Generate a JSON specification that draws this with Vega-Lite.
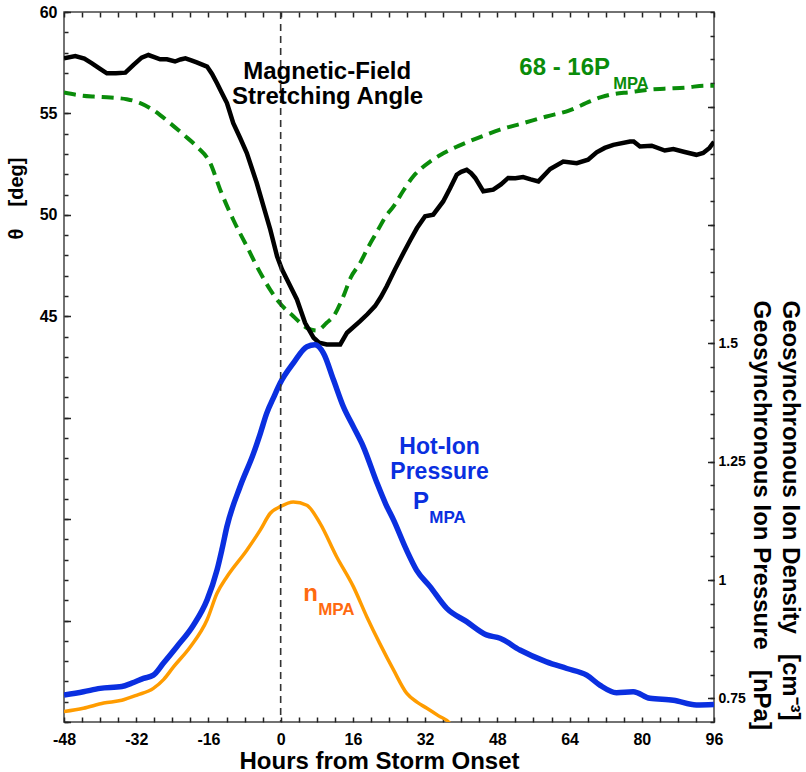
{
  "$schema": "https://vega.github.io/schema/vega-lite/v6.json",
  "width": 650,
  "height": 710,
  "autosize": {"type": "none"},
  "padding": {"left": 64, "top": 12, "right": 92, "bottom": 50},
  "background": "white",
  "config": {
    "view": {"stroke": "#444", "strokeWidth": 1.5},
    "font": "Liberation Sans",
    "axis": {
      "domain": false,
      "grid": false,
      "tickColor": "#222",
      "tickWidth": 1.5,
      "labelFont": "Liberation Sans",
      "labelFontWeight": "bold",
      "labelColor": "#000",
      "titleFont": "Liberation Sans",
      "titleFontWeight": "bold",
      "titleColor": "#000",
      "labelOverlap": false,
      "labelFlush": false
    }
  },
  "datasets": {
    "angle": [
      {"hr": -48, "v": 57.72}, {"hr": -45.5, "v": 57.83}, {"hr": -43.5, "v": 57.7}, {"hr": -41.8, "v": 57.47},
      {"hr": -40, "v": 57.2}, {"hr": -38.5, "v": 56.98}, {"hr": -36.5, "v": 56.98}, {"hr": -34.4, "v": 57.01},
      {"hr": -32.6, "v": 57.39}, {"hr": -30.8, "v": 57.75}, {"hr": -29.3, "v": 57.88}, {"hr": -28, "v": 57.78},
      {"hr": -26.7, "v": 57.67}, {"hr": -25.2, "v": 57.67}, {"hr": -23.4, "v": 57.56}, {"hr": -22.2, "v": 57.66},
      {"hr": -21.1, "v": 57.72}, {"hr": -19.8, "v": 57.62}, {"hr": -18.6, "v": 57.52}, {"hr": -16.3, "v": 57.31},
      {"hr": -15.2, "v": 56.95}, {"hr": -14.1, "v": 56.49}, {"hr": -13, "v": 56.0}, {"hr": -11.9, "v": 55.51},
      {"hr": -10.5, "v": 54.52}, {"hr": -9, "v": 53.8}, {"hr": -7.5, "v": 53.05}, {"hr": -5.3, "v": 51.57},
      {"hr": -3.8, "v": 50.42}, {"hr": -2.3, "v": 49.27}, {"hr": -0.8, "v": 47.96}, {"hr": 0.3, "v": 47.3},
      {"hr": 1.4, "v": 46.81}, {"hr": 3.6, "v": 45.83}, {"hr": 5.4, "v": 44.68}, {"hr": 7.3, "v": 43.94},
      {"hr": 8.5, "v": 43.7}, {"hr": 10.2, "v": 43.61}, {"hr": 13.2, "v": 43.61}, {"hr": 14.7, "v": 44.19},
      {"hr": 17.6, "v": 44.76}, {"hr": 19.2, "v": 45.1}, {"hr": 20.9, "v": 45.5}, {"hr": 22.2, "v": 45.95},
      {"hr": 23.5, "v": 46.48}, {"hr": 25.3, "v": 47.3}, {"hr": 27.2, "v": 48.12}, {"hr": 28.7, "v": 48.75},
      {"hr": 30.2, "v": 49.35}, {"hr": 32.0, "v": 49.93}, {"hr": 33.8, "v": 50.01}, {"hr": 36.0, "v": 50.66},
      {"hr": 37.5, "v": 51.3}, {"hr": 39.0, "v": 51.98}, {"hr": 40.0, "v": 52.12}, {"hr": 41.2, "v": 52.22},
      {"hr": 42.2, "v": 52.05}, {"hr": 43.1, "v": 51.82}, {"hr": 44.9, "v": 51.16}, {"hr": 47.1, "v": 51.24},
      {"hr": 48.8, "v": 51.5}, {"hr": 50.4, "v": 51.82}, {"hr": 52, "v": 51.8}, {"hr": 53.7, "v": 51.86},
      {"hr": 55.4, "v": 51.75}, {"hr": 57.1, "v": 51.65}, {"hr": 59.7, "v": 52.26}, {"hr": 62.6, "v": 52.63},
      {"hr": 65.6, "v": 52.55}, {"hr": 68.1, "v": 52.72}, {"hr": 70.0, "v": 53.08}, {"hr": 71.8, "v": 53.3},
      {"hr": 73.7, "v": 53.45}, {"hr": 77.4, "v": 53.62}, {"hr": 78.2, "v": 53.62}, {"hr": 79.6, "v": 53.37},
      {"hr": 82.2, "v": 53.41}, {"hr": 85.1, "v": 53.17}, {"hr": 87.0, "v": 53.24}, {"hr": 89.5, "v": 53.1},
      {"hr": 92.1, "v": 52.96}, {"hr": 93.6, "v": 53.05}, {"hr": 95, "v": 53.3}, {"hr": 96, "v": 53.6}
    ],
    "model": [
      {"hr": -48, "v": 56.03}, {"hr": -44.7, "v": 55.9}, {"hr": -41.4, "v": 55.83}, {"hr": -37.7, "v": 55.78},
      {"hr": -34.1, "v": 55.7}, {"hr": -31.5, "v": 55.55}, {"hr": -28.9, "v": 55.26}, {"hr": -26.7, "v": 54.92},
      {"hr": -24.5, "v": 54.52}, {"hr": -21.5, "v": 53.95}, {"hr": -18.6, "v": 53.37}, {"hr": -15.6, "v": 52.55},
      {"hr": -13.4, "v": 51.24}, {"hr": -10.5, "v": 49.76}, {"hr": -7.5, "v": 48.45}, {"hr": -4.5, "v": 47.14},
      {"hr": -2.3, "v": 46.3}, {"hr": -0.4, "v": 45.7}, {"hr": 2.8, "v": 45.0}, {"hr": 5.8, "v": 44.43},
      {"hr": 8.0, "v": 44.3}, {"hr": 10.2, "v": 44.68}, {"hr": 11.7, "v": 45.0}, {"hr": 13.9, "v": 45.99},
      {"hr": 15.5, "v": 46.9}, {"hr": 17.6, "v": 47.63}, {"hr": 19.5, "v": 48.45}, {"hr": 21.3, "v": 49.15},
      {"hr": 23.2, "v": 49.9}, {"hr": 25.0, "v": 50.42}, {"hr": 27.2, "v": 51.2}, {"hr": 29.4, "v": 51.9},
      {"hr": 31.2, "v": 52.3}, {"hr": 33.1, "v": 52.63}, {"hr": 36.8, "v": 53.12}, {"hr": 41.2, "v": 53.57},
      {"hr": 44.9, "v": 53.9}, {"hr": 48.6, "v": 54.2}, {"hr": 53.7, "v": 54.52}, {"hr": 58.9, "v": 54.85},
      {"hr": 64, "v": 55.15}, {"hr": 68.5, "v": 55.59}, {"hr": 71, "v": 55.8}, {"hr": 73.6, "v": 55.95},
      {"hr": 77.4, "v": 56.05}, {"hr": 81.1, "v": 56.16}, {"hr": 85, "v": 56.22}, {"hr": 90, "v": 56.28},
      {"hr": 94, "v": 56.37}, {"hr": 96, "v": 56.37}
    ],
    "pressure": [
      {"hr": -48, "v": 0.757}, {"hr": -43.7, "v": 0.764}, {"hr": -40, "v": 0.771}, {"hr": -35.2, "v": 0.775},
      {"hr": -33, "v": 0.782}, {"hr": -30.4, "v": 0.792}, {"hr": -28.2, "v": 0.799}, {"hr": -26, "v": 0.824},
      {"hr": -23, "v": 0.859}, {"hr": -19.3, "v": 0.905}, {"hr": -16.3, "v": 0.958}, {"hr": -14.1, "v": 1.021},
      {"hr": -13, "v": 1.065}, {"hr": -11.9, "v": 1.113}, {"hr": -9, "v": 1.197}, {"hr": -6, "v": 1.268},
      {"hr": -4.5, "v": 1.31}, {"hr": -3.1, "v": 1.352}, {"hr": -1.5, "v": 1.387}, {"hr": -0.1, "v": 1.416},
      {"hr": 2.8, "v": 1.458}, {"hr": 5.8, "v": 1.493}, {"hr": 7.6, "v": 1.497}, {"hr": 9.5, "v": 1.479},
      {"hr": 11.7, "v": 1.423}, {"hr": 13.9, "v": 1.366}, {"hr": 16.1, "v": 1.324}, {"hr": 18.3, "v": 1.282},
      {"hr": 21.3, "v": 1.206}, {"hr": 23.3, "v": 1.16}, {"hr": 25.0, "v": 1.127}, {"hr": 27.9, "v": 1.063},
      {"hr": 30.1, "v": 1.021}, {"hr": 33.1, "v": 0.986}, {"hr": 36.8, "v": 0.94}, {"hr": 41.2, "v": 0.912},
      {"hr": 45.6, "v": 0.884}, {"hr": 48.6, "v": 0.877}, {"hr": 53, "v": 0.852}, {"hr": 58.9, "v": 0.827},
      {"hr": 63.4, "v": 0.813}, {"hr": 67.8, "v": 0.799}, {"hr": 70.7, "v": 0.778}, {"hr": 74.4, "v": 0.762},
      {"hr": 78.1, "v": 0.764}, {"hr": 81.8, "v": 0.75}, {"hr": 87, "v": 0.746}, {"hr": 92.1, "v": 0.736},
      {"hr": 96, "v": 0.737}
    ],
    "density": [
      {"hr": -48, "v": 0.722}, {"hr": -43.7, "v": 0.729}, {"hr": -39.2, "v": 0.74}, {"hr": -35.2, "v": 0.746},
      {"hr": -31.8, "v": 0.757}, {"hr": -28.2, "v": 0.771}, {"hr": -25.9, "v": 0.79}, {"hr": -23.7, "v": 0.817},
      {"hr": -20, "v": 0.859}, {"hr": -16.3, "v": 0.916}, {"hr": -14.1, "v": 0.972}, {"hr": -11.9, "v": 1.007},
      {"hr": -7.5, "v": 1.063}, {"hr": -4.5, "v": 1.106}, {"hr": -2.3, "v": 1.141}, {"hr": -0.1, "v": 1.155},
      {"hr": 2.8, "v": 1.165}, {"hr": 5.8, "v": 1.158}, {"hr": 8.7, "v": 1.12}, {"hr": 12.4, "v": 1.049},
      {"hr": 16.1, "v": 0.986}, {"hr": 19.1, "v": 0.922}, {"hr": 22, "v": 0.865}, {"hr": 25, "v": 0.81},
      {"hr": 27.9, "v": 0.761}, {"hr": 30.2, "v": 0.742}, {"hr": 32.4, "v": 0.729}, {"hr": 35, "v": 0.713},
      {"hr": 37.5, "v": 0.697}, {"hr": 38, "v": 0.69}
    ]
  },
  "layer": [
    {
      "data": {"name": "model"},
      "mark": {"type": "line", "color": "#0a8c0a", "strokeWidth": 4, "strokeDash": [12, 7], "interpolate": "monotone", "clip": true},
      "encoding": {
        "x": {
          "field": "hr", "type": "quantitative",
          "scale": {"domain": [-48, 96], "nice": false, "zero": false},
          "axis": {
            "orient": "top", "title": null, "labels": false, "tickSize": -5,
            "values": [-48, -44, -40, -36, -32, -28, -24, -20, -16, -12, -8, -4, 0, 4, 8, 12, 16, 20, 24, 28, 32, 36, 40, 44, 48, 52, 56, 60, 64, 68, 72, 76, 80, 84, 88, 92, 96]
          }
        },
        "y": {
          "field": "v", "type": "quantitative",
          "scale": {"domain": [25, 60], "nice": false, "zero": false},
          "axis": {
            "orient": "left", "title": null, "labels": false, "tickSize": -4,
            "values": [25, 26, 27, 28, 29, 30, 31, 32, 33, 34, 35, 36, 37, 38, 39, 40, 41, 42, 43, 44, 45, 46, 47, 48, 49, 50, 51, 52, 53, 54, 55, 56, 57, 58, 59, 60]
          }
        }
      }
    },
    {
      "data": {"name": "angle"},
      "mark": {"type": "line", "color": "#000000", "strokeWidth": 4.5, "clip": true},
      "encoding": {
        "x": {
          "field": "hr", "type": "quantitative",
          "scale": {"domain": [-48, 96], "nice": false, "zero": false},
          "axis": {
            "orient": "bottom", "tickSize": -5, "labelPadding": 14, "labelFontSize": 16,
            "values": [-48, -44, -40, -36, -32, -28, -24, -20, -16, -12, -8, -4, 0, 4, 8, 12, 16, 20, 24, 28, 32, 36, 40, 44, 48, 52, 56, 60, 64, 68, 72, 76, 80, 84, 88, 92, 96],
            "labelExpr": "datum.value % 16 === 0 ? datum.value + '' : ''",
            "title": "Hours from Storm Onset", "titleFontSize": 24,
            "titleX": 315, "titleY": 46, "titleAlign": "center", "titleBaseline": "alphabetic"
          }
        },
        "y": {
          "field": "v", "type": "quantitative",
          "scale": {"domain": [25, 60], "nice": false, "zero": false},
          "axis": {
            "orient": "left", "tickSize": -6.5, "labelPadding": 13.5, "labelFontSize": 16,
            "values": [25, 30, 35, 40, 45, 50, 55, 60],
            "labelExpr": "datum.value >= 45 ? datum.value + '' : ''",
            "title": "θ\u00a0\u00a0\u00a0\u00a0[deg]", "titleFontSize": 20, "titleAngle": -90,
            "titleX": -42, "titleY": 186, "titleAlign": "center", "titleBaseline": "alphabetic"
          }
        }
      }
    },
    {
      "data": {"name": "density"},
      "mark": {"type": "line", "color": "#ff9c00", "strokeWidth": 3.5, "interpolate": "monotone", "clip": true},
      "encoding": {
        "x": {"field": "hr", "type": "quantitative", "scale": {"domain": [-48, 96], "nice": false, "zero": false}, "axis": null},
        "y": {
          "field": "v", "type": "quantitative",
          "scale": {"domain": [0.7, 2.2], "nice": false, "zero": false},
          "axis": {
            "orient": "right", "title": null, "labels": false, "tickSize": -4,
            "values": [0.7, 0.75, 0.8, 0.85, 0.9, 0.95, 1, 1.05, 1.1, 1.15, 1.2, 1.25, 1.3, 1.35, 1.4, 1.45, 1.5, 1.55, 1.6, 1.65, 1.7, 1.75, 1.8, 1.85, 1.9, 1.95, 2, 2.05, 2.1, 2.15, 2.2]
          }
        }
      }
    },
    {
      "data": {"name": "pressure"},
      "mark": {"type": "line", "color": "#0a2fe0", "strokeWidth": 5.5, "interpolate": "monotone", "clip": true},
      "encoding": {
        "x": {"field": "hr", "type": "quantitative", "scale": {"domain": [-48, 96], "nice": false, "zero": false}, "axis": null},
        "y": {
          "field": "v", "type": "quantitative",
          "scale": {"domain": [0.7, 2.2], "nice": false, "zero": false},
          "axis": {
            "orient": "right", "tickSize": -6.5, "labelPadding": 10.5, "labelFontSize": 14,
            "values": [0.75, 1, 1.25, 1.5, 1.75, 2],
            "labelExpr": "datum.value <= 1.5 ? datum.value + '' : ''",
            "title": ["Geosynchronous Ion Density\u00a0\u00a0\u00a0[cm⁻³]", "Geosynchronous Ion Pressure\u00a0\u00a0\u00a0[nPa]"],
            "titleFontSize": 24, "titleAngle": 90, "titleLineHeight": 29,
            "titleX": 68, "titleY": 288, "titleAlign": "left", "titleBaseline": "alphabetic"
          }
        }
      }
    },
    {
      "data": {"values": [{"hr": 0}]},
      "mark": {"type": "rule", "color": "#333333", "strokeWidth": 1.6, "strokeDash": [7, 5]},
      "encoding": {
        "x": {"field": "hr", "type": "quantitative", "scale": {"domain": [-48, 96], "nice": false, "zero": false}, "axis": null}
      }
    },
    {
      "data": {"values": [
        {"hr": 10.3, "v": 56.7, "txt": "Magnetic-Field"},
        {"hr": 10.4, "v": 55.47, "txt": "Stretching Angle"}
      ]},
      "mark": {"type": "text", "align": "center", "baseline": "alphabetic", "fontSize": 24, "fontWeight": "bold", "color": "#000000"},
      "encoding": {
        "x": {"field": "hr", "type": "quantitative", "scale": {"domain": [-48, 96], "nice": false, "zero": false}, "axis": null},
        "y": {"field": "v", "type": "quantitative", "scale": {"domain": [25, 60], "nice": false, "zero": false}, "axis": null},
        "text": {"field": "txt"}
      }
    },
    {
      "data": {"values": [{"hr": 52.87, "v": 56.9, "txt": "68 - 16P"}]},
      "mark": {"type": "text", "align": "left", "baseline": "alphabetic", "fontSize": 24, "fontWeight": "bold", "color": "#0a8c0a"},
      "encoding": {
        "x": {"field": "hr", "type": "quantitative", "scale": {"domain": [-48, 96], "nice": false, "zero": false}, "axis": null},
        "y": {"field": "v", "type": "quantitative", "scale": {"domain": [25, 60], "nice": false, "zero": false}, "axis": null},
        "text": {"field": "txt"}
      }
    },
    {
      "data": {"values": [{"hr": 73.67, "v": 56.2, "txt": "MPA"}]},
      "mark": {"type": "text", "align": "left", "baseline": "alphabetic", "fontSize": 16.5, "fontWeight": "bold", "color": "#0a8c0a"},
      "encoding": {
        "x": {"field": "hr", "type": "quantitative", "scale": {"domain": [-48, 96], "nice": false, "zero": false}, "axis": null},
        "y": {"field": "v", "type": "quantitative", "scale": {"domain": [25, 60], "nice": false, "zero": false}, "axis": null},
        "text": {"field": "txt"}
      }
    },
    {
      "data": {"values": [
        {"hr": 35.2, "v": 1.2662, "txt": "Hot-Ion"},
        {"hr": 35.2, "v": 1.2134, "txt": "Pressure"}
      ]},
      "mark": {"type": "text", "align": "center", "baseline": "alphabetic", "fontSize": 23, "fontWeight": "bold", "color": "#0a2fe0"},
      "encoding": {
        "x": {"field": "hr", "type": "quantitative", "scale": {"domain": [-48, 96], "nice": false, "zero": false}, "axis": null},
        "y": {"field": "v", "type": "quantitative", "scale": {"domain": [0.7, 2.2], "nice": false, "zero": false}, "axis": null},
        "text": {"field": "txt"}
      }
    },
    {
      "data": {"values": [{"hr": 29.33, "v": 1.149, "txt": "P"}]},
      "mark": {"type": "text", "align": "left", "baseline": "alphabetic", "fontSize": 24, "fontWeight": "bold", "color": "#0a2fe0"},
      "encoding": {
        "x": {"field": "hr", "type": "quantitative", "scale": {"domain": [-48, 96], "nice": false, "zero": false}, "axis": null},
        "y": {"field": "v", "type": "quantitative", "scale": {"domain": [0.7, 2.2], "nice": false, "zero": false}, "axis": null},
        "text": {"field": "txt"}
      }
    },
    {
      "data": {"values": [{"hr": 32.94, "v": 1.12, "txt": "MPA"}]},
      "mark": {"type": "text", "align": "left", "baseline": "alphabetic", "fontSize": 17, "fontWeight": "bold", "color": "#0a2fe0"},
      "encoding": {
        "x": {"field": "hr", "type": "quantitative", "scale": {"domain": [-48, 96], "nice": false, "zero": false}, "axis": null},
        "y": {"field": "v", "type": "quantitative", "scale": {"domain": [0.7, 2.2], "nice": false, "zero": false}, "axis": null},
        "text": {"field": "txt"}
      }
    },
    {
      "data": {"values": [{"hr": 4.98, "v": 0.9557, "txt": "n"}]},
      "mark": {"type": "text", "align": "left", "baseline": "alphabetic", "fontSize": 24, "fontWeight": "bold", "color": "#ff6a10"},
      "encoding": {
        "x": {"field": "hr", "type": "quantitative", "scale": {"domain": [-48, 96], "nice": false, "zero": false}, "axis": null},
        "y": {"field": "v", "type": "quantitative", "scale": {"domain": [0.7, 2.2], "nice": false, "zero": false}, "axis": null},
        "text": {"field": "txt"}
      }
    },
    {
      "data": {"values": [{"hr": 8.3, "v": 0.926, "txt": "MPA"}]},
      "mark": {"type": "text", "align": "left", "baseline": "alphabetic", "fontSize": 17, "fontWeight": "bold", "color": "#ff6a10"},
      "encoding": {
        "x": {"field": "hr", "type": "quantitative", "scale": {"domain": [-48, 96], "nice": false, "zero": false}, "axis": null},
        "y": {"field": "v", "type": "quantitative", "scale": {"domain": [0.7, 2.2], "nice": false, "zero": false}, "axis": null},
        "text": {"field": "txt"}
      }
    }
  ],
  "resolve": {
    "scale": {"y": "independent"},
    "axis": {"x": "independent", "y": "independent"}
  }
}
